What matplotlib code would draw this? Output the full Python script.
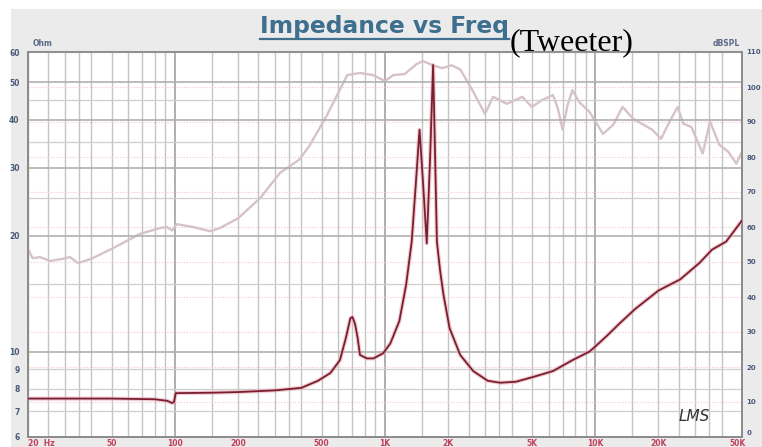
import matplotlib
matplotlib.use("Agg")
import matplotlib.pyplot as plt
import matplotlib.transforms as mtransforms
from matplotlib.patches import Rectangle

# ---------------- data ----------------
imp_freq = [20, 30, 50, 80, 92, 97, 99, 101, 150, 200, 300, 400, 480, 550, 610, 650,
            684, 700, 720, 740, 760, 820, 880, 980, 1060, 1170, 1260, 1340, 1400, 1460,
            1520, 1580, 1640, 1694, 1730, 1766, 1830, 1900, 2030, 2280, 2630, 3080, 3530,
            4200, 5100, 6300, 7800, 9400, 10000, 11400, 13000, 15500, 20000, 25400,
            31400, 36000, 42000, 50000]
imp_ohm = [7.55, 7.55, 7.55, 7.52, 7.45, 7.35, 7.4, 7.8, 7.82, 7.85, 7.93, 8.05, 8.4, 8.8,
           9.5, 10.8, 12.2, 12.3, 11.8, 10.9, 9.8, 9.6, 9.6, 9.9, 10.5, 12.0, 14.9, 19.3,
           27.0, 37.7, 27.0, 19.1, 32.0, 55.5, 33.0, 19.3, 16.2, 14.0, 11.5, 9.8, 8.9, 8.4,
           8.3, 8.35, 8.6, 8.9, 9.5, 10.0, 10.3, 11.0, 11.8, 12.9, 14.4, 15.4, 17.0, 18.4,
           19.3, 21.9]

spl_freq = [20, 21, 22.8, 25.5, 29.3, 31.7, 34.6, 40, 51, 68, 85, 91.5, 97, 102, 122, 147,
            164, 200, 254, 317, 392, 440, 530, 661, 760, 876, 1000, 1093, 1240, 1410, 1517,
            1688, 1870, 2080, 2280, 2590, 2990, 3270, 3800, 4300, 4500, 5000, 5600, 6300,
            6650, 7000, 7400, 7800, 8400, 9400, 10900, 12200, 13500, 15200, 17000, 18700,
            20600, 22600, 24700, 26300, 28700, 32500, 35200, 39000, 43000, 47000, 50000]
spl_db = [53.7, 51.1, 51.4, 50.3, 50.9, 51.4, 49.7, 50.9, 54.0, 58.0, 59.7, 60.0, 59.0,
          60.8, 60.0, 58.8, 59.7, 62.5, 68.2, 75.5, 79.3, 83.5, 92.0, 103.4, 104.0, 103.4,
          101.7, 103.4, 103.7, 106.5, 107.4, 106.2, 105.4, 106.2, 105.0, 99.4, 92.3, 97.2,
          95.2, 96.6, 97.2, 94.3, 96.3, 97.7, 93.8, 87.8, 94.9, 99.1, 95.7, 92.9, 86.6,
          89.2, 94.3, 90.9, 89.2, 87.8, 85.2, 90.1, 94.3, 89.5, 88.6, 81.0, 90.1, 83.5,
          81.5, 78.1, 81.5]

ohm_ticks = [6, 7, 8, 9, 10, 20, 30, 40, 50, 60]
ohm_grid = [6, 7, 8, 9, 10, 15, 20, 25, 30, 35, 40, 45, 50, 60]
db_ticks = list(range(0, 111, 10))
x_ticks = [20, 50, 100, 200, 500, 1000, 2000, 5000, 10000, 20000, 50000]
x_labels = ["20  Hz", "50", "100", "200", "500", "1K", "2K", "5K", "10K", "20K", "50K"]
x_grid = [m * d for d in (10, 100, 1000, 10000) for m in (1, 1.5, 2, 2.5, 3, 3.5, 4, 5, 6, 7, 8, 9)]
x_grid = [g for g in x_grid if 20 <= g <= 50000]

# ---------------- figure ----------------
W, H = 762, 447
fig = plt.figure(figsize=(W / 100, H / 100), dpi=100)
fig.patch.set_facecolor("white")
fig.patches.append(Rectangle((11 / W, 0), 1 - 11 / W, 1 - 9 / H, transform=fig.transFigure,
                             facecolor="#ebebeb", edgecolor="none", zorder=-10))

L, R, T, B = 28, 742, 52, 437
rect = [L / W, 1 - B / H, (R - L) / W, (B - T) / H]
ax2 = fig.add_axes(rect)            # SPL (bottom, white patch)
ax = fig.add_axes(rect, sharex=ax2)  # impedance (top, transparent)
ax2.set_zorder(1)
ax.set_zorder(2)
ax.patch.set_visible(False)

ax2.set_facecolor("white")
ax2.set_xscale("log")
ax2.set_xlim(20, 50000)
ax2.set_ylim(0, 110)
ax.set_yscale("log")
ax.set_ylim(6, 60)

# grids
for g in x_grid:
    heavy = g in (100, 1000, 10000)
    ax2.axvline(g, color="#a8a8a8" if heavy else "#c4c4c4", lw=1.3 if heavy else 1.0, zorder=1)
for d in db_ticks:
    ax2.axhline(d, color="#f0c8d0", lw=0.8, ls=(0, (1, 1.5)), zorder=1)
for o in ohm_grid:
    heavy = o in (10, 20, 30, 40, 50)
    ax.axhline(o, color="#b0b0b0" if heavy else "#cfcfcf", lw=1.2 if heavy else 0.9, zorder=1)

# curves
ax2.plot(spl_freq, spl_db, color="#d6c2c7", lw=1.7, zorder=3)
ax.plot(imp_freq, imp_ohm, color="#e9a9b6", lw=3.0, alpha=0.6, zorder=4, solid_joinstyle="round")
ax.plot(imp_freq, imp_ohm, color="#7a1f2e", lw=1.3, zorder=5, solid_joinstyle="round")

# frame
for a in (ax, ax2):
    for s in a.spines.values():
        s.set_color("#8a8a8a")
        s.set_linewidth(1.2)

# ticks
ax.set_yticks(ohm_ticks)
ax.set_yticklabels([str(t) for t in ohm_ticks])
ax.yaxis.set_minor_locator(matplotlib.ticker.NullLocator())
ax.tick_params(axis="y", which="both", length=0, pad=6, labelsize=5.5, labelcolor="#4a5a7a")
for lab in ax.get_yticklabels():
    lab.set_fontweight("bold")
ax2.yaxis.tick_right()
ax2.set_yticks(db_ticks[1:])
ax2.set_yticklabels([str(t) for t in db_ticks[1:]])
ax2.tick_params(axis="y", which="both", length=0, pad=3, labelsize=5, labelcolor="#4a5a7a")
for lab in ax2.get_yticklabels():
    lab.set_fontweight("bold")
ax2.annotate(str(db_ticks[0]), xy=(1.0, db_ticks[0]),
             xycoords=mtransforms.blended_transform_factory(ax2.transAxes, ax2.transData),
             xytext=(3, 3), textcoords="offset points", ha="left", va="center",
             fontsize=5, fontweight="bold", color="#4a5a7a")
ax.tick_params(axis="x", which="both", length=0, labelbottom=False)
ax2.tick_params(axis="x", which="both", length=0, labelbottom=False)

tr = mtransforms.blended_transform_factory(ax2.transData, ax2.transAxes)
for xv, lab in zip(x_ticks, x_labels):
    ax2.text(xv * (0.95 if xv == 50000 else 1.0), -0.004, lab, transform=tr,
             ha="left" if xv == 20 else "center", va="top",
             fontsize=5.5, fontweight="bold", color="#c0405e")

# axis unit labels
fig.text(33 / W, 1 - 43 / H, "Ohm", fontsize=5.5, fontweight="bold", color="#5a6a8a",
         ha="left", va="center")
fig.text(740 / W, 1 - 43 / H, "dBSPL", fontsize=5.5, fontweight="bold", color="#5a6a8a",
         ha="right", va="center")

# LMS mark
ax.text(0.955, 0.035, "LMS", transform=ax.transAxes, fontsize=11, fontstyle="italic",
        color="#333333", ha="right", va="bottom", family="DejaVu Sans")

# title
t1 = fig.text(260 / W, 1 - 33 / H, "Impedance vs Freq", fontsize=16.8, fontweight="bold",
              color="#3e6f8f", family="DejaVu Sans", ha="left", va="baseline")
fig.canvas.draw()
bb = t1.get_window_extent()
fig.add_artist(plt.Line2D([bb.x0 / W, bb.x1 / W], [1 - 39 / H, 1 - 39 / H],
                          transform=fig.transFigure, color="#3e6f8f", lw=1.6))
fig.text(bb.x1 / W + 0.001, 1 - 50 / H, "(Tweeter)", fontsize=23, color="black",
         family="Liberation Serif", ha="left", va="baseline")

fig.savefig("out.png", dpi=100)
